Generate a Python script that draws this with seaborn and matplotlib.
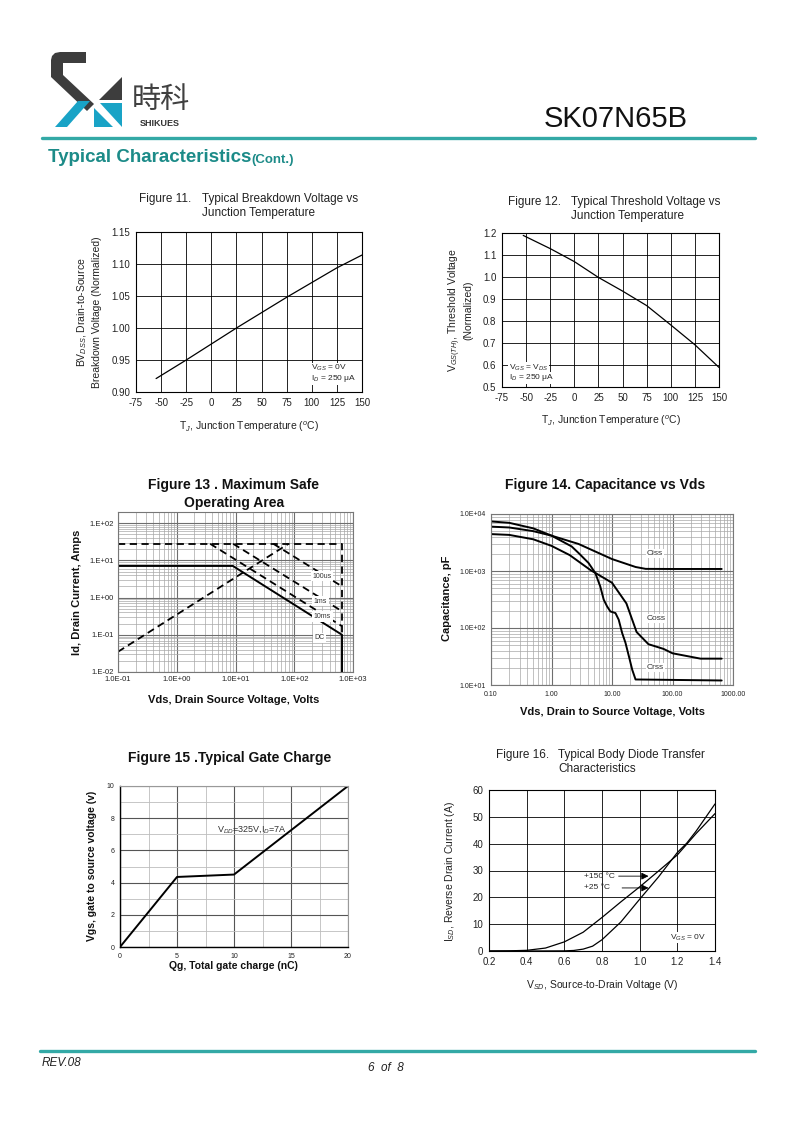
import numpy as np
import pandas as pd
import matplotlib
matplotlib.use('Agg')
import matplotlib.pyplot as plt
import seaborn as sns
from matplotlib.lines import Line2D
from matplotlib.patches import Polygon
from matplotlib.ticker import NullFormatter, LogLocator, FixedLocator

# ---------------- data ----------------
# Figure 11: breakdown voltage vs Tj
f11_temp = [-55, -25, 0, 25, 50, 75, 100, 125, 150]
f11_bv = [0.921, 0.950, 0.975, 1.000, 1.024, 1.048, 1.071, 1.094, 1.114]
f11_xticks = [-75, -50, -25, 0, 25, 50, 75, 100, 125, 150]
f11_yticks = [0.90, 0.95, 1.00, 1.05, 1.10, 1.15]

# Figure 12: threshold voltage vs Tj
f12_temp = [-53, -25, 0, 25, 50, 75, 100, 125, 150]
f12_vth = [1.189, 1.129, 1.070, 0.998, 0.936, 0.870, 0.782, 0.692, 0.589]
f12_xticks = [-75, -50, -25, 0, 25, 50, 75, 100, 125, 150]
f12_yticks = [0.5, 0.6, 0.7, 0.8, 0.9, 1.0, 1.1, 1.2]

# Figure 13: safe operating area
soa_lim_v = [0.1, 650, 650]
soa_lim_i = [28, 28, 0.11]
soa_rds_v = [0.1, 80]
soa_rds_i = [0.035, 28]
soa_100us_v = [44, 650]
soa_100us_i = [28, 2.0]
soa_1ms_v = [9.1, 650]
soa_1ms_i = [28, 0.43]
soa_10ms_v = [3.7, 650]
soa_10ms_i = [28, 0.17]
soa_dc_v = [0.1, 9, 650, 650]
soa_dc_i = [7.1, 7.1, 0.1, 0.01]
f13_labels = ['100us', '1ms', '10ms', 'DC']
f13_label_v = [205, 215, 215, 220]
f13_label_i = [3.8, 0.8, 0.31, 0.083]
f13_xticks = [0.1, 1, 10, 100, 1000]
f13_xticklabels = ['1.0E-01', '1.0E+00', '1.0E+01', '1.0E+02', '1.0E+03']
f13_yticks = [0.01, 0.1, 1, 10, 100]
f13_yticklabels = ['1.E-02', '1.E-01', '1.E+00', '1.E+01', '1.E+02']

# Figure 14: capacitance vs Vds
ciss_v = [0.1, 0.2, 0.5, 1.0, 2.8, 10, 24.6, 36, 100, 650]
ciss_c = [6000, 5800, 5000, 4170, 2980, 1620, 1175, 1090, 1085, 1085]
coss_v = [0.1, 0.2, 0.5, 1.0, 2.0, 4.4, 10, 17.3, 25.5, 40, 71, 100, 290, 650]
coss_c = [4440, 4300, 3600, 2760, 1900, 1040, 622, 270, 85, 52, 43, 36, 29, 29]
crss_v = [0.1, 0.2, 0.5, 1.0, 2.15, 2.8, 4.1, 5.3, 6.4, 7.3, 8.3, 9.4, 11.4, 12.9,
          14.7, 16.7, 19.0, 21.6, 24.5, 650]
crss_c = [7400, 7000, 5600, 4170, 2700, 2070, 1380, 920, 535, 314, 239, 195, 183, 140,
          82, 55, 32, 18.5, 12.5, 12]
f14_names = ['Ciss', 'Coss', 'Crss']
f14_label_v = [38, 38, 38]
f14_label_c = [2000, 146, 20]
f14_xticks = [0.1, 1, 10, 100, 1000]
f14_xticklabels = ['0.10', '1.00', '10.00', '100.00', '1000.00']
f14_yticks = [10, 100, 1000, 10000]
f14_yticklabels = ['1.0E+01', '1.0E+02', '1.0E+03', '1.0E+04']

# Figure 15: gate charge
f15_qg = [0, 5, 10, 20]
f15_vgs = [0, 4.35, 4.5, 10]

# Figure 16: body diode
f16_v = [0.2, 0.3, 0.4, 0.5, 0.6, 0.7, 0.8, 0.9, 1.0, 1.1, 1.2, 1.25, 1.3, 1.4]
f16_i150 = [0.0, 0.05, 0.25, 1.1, 3.4, 7.0, 12.5, 18.3, 23.9, 29.8, 35.8, 39.8, 43.8, 51.2]
f16_v25 = [0.2, 0.4, 0.6, 0.65, 0.7, 0.75, 0.8, 0.9, 1.0, 1.1, 1.2, 1.25, 1.3, 1.4]
f16_i25 = [0.0, 0.0, 0.05, 0.2, 0.7, 1.8, 4.2, 10.8, 19.3, 27.6, 36.7, 40.2, 44.7, 54.8]

# ---------------- setup ----------------
sns.set_theme(style='white')
plt.rcParams['font.family'] = ['Liberation Sans', 'Noto Sans CJK SC', 'DejaVu Sans']
plt.rcParams['mathtext.fontset'] = 'custom'
plt.rcParams['mathtext.rm'] = 'Liberation Sans'
plt.rcParams['mathtext.it'] = 'Liberation Sans:italic'
plt.rcParams['mathtext.bf'] = 'Liberation Sans:bold'
plt.rcParams['axes.unicode_minus'] = False

W, H = 800, 1132
fig = plt.figure(figsize=(8, 11.32), dpi=100)
fig.patch.set_facecolor('white')


def ax_at(l, t, r, b):
    return fig.add_axes([l / W, 1 - b / H, (r - l) / W, (b - t) / H])


def fx(x):
    return x / W


def fy(y):
    return 1 - y / H


def ftext(x, y, s, **kw):
    fig.text(fx(x), fy(y), s, **kw)


TEAL = '#33a9a6'
TEAL_TXT = '#1c8b88'
DARK = '#3d3d3d'
CYAN = '#19a3c6'
TXT = '#222222'

# ---------------- header ----------------
def poly(pts, color):
    p = Polygon([(fx(x), fy(y)) for x, y in pts], closed=True, transform=fig.transFigure,
                fc=color, ec='none')
    fig.add_artist(p)

poly([(86, 52), (60, 52), (55, 53), (52, 56), (51, 60), (51, 77), (87, 111), (94, 104),
      (63, 75), (63, 63), (86, 63)], DARK)
poly([(122, 77), (122, 100), (99, 100)], DARK)
poly([(55, 127), (67, 127), (90, 101), (78, 101)], CYAN)
poly([(100, 103), (122, 103), (122, 127)], CYAN)
poly([(94, 108), (94, 127), (113, 127)], CYAN)
ftext(161, 100, '時科', fontsize=21, color='#404040', ha='center', va='center',
      family=['Noto Sans CJK SC', 'DejaVu Sans'])
ftext(160, 124, 'SHIKUES', fontsize=6.5, color='#333333', ha='center', va='center',
      fontweight='bold')
ftext(688, 119, 'SK07N65B', fontsize=21, color='#111111', ha='right', va='center')
fig.add_artist(Line2D([fx(42), fx(755)], [fy(138), fy(138)], transform=fig.transFigure,
                      color=TEAL, lw=2.4))
ftext(48, 158, 'Typical Characteristics', fontsize=13.5, color=TEAL_TXT, fontweight='bold',
      ha='left', va='center')
ftext(251, 160, '(Cont.)', fontsize=9.5, color=TEAL_TXT, fontweight='bold', ha='left', va='center')

# ---------------- footer ----------------
fig.add_artist(Line2D([fx(40), fx(755)], [fy(1051), fy(1051)], transform=fig.transFigure,
                      color=TEAL, lw=2.4))
ftext(42, 1063, 'REV.08', fontsize=8.5, style='italic', ha='left', va='center', color=TXT)
ftext(386, 1068, '6  of  8', fontsize=8.5, style='italic', ha='center', va='center', color=TXT)

# ---------------- Figure 11 ----------------
ax = ax_at(136, 232, 362, 392)
sns.lineplot(x=f11_temp, y=f11_bv, ax=ax, color='black', lw=0.9, estimator=None, sort=False)
ax.set_xlim(-75, 150)
ax.set_ylim(0.90, 1.15)
ax.set_xticks(f11_xticks)
ax.set_yticks(f11_yticks)
ax.set_yticklabels([f'{v:.2f}' for v in f11_yticks])
ax.grid(True, color='black', lw=0.6)
for s in ax.spines.values():
    s.set_color('black'); s.set_linewidth(0.8)
ax.tick_params(length=0, labelsize=7, pad=4, colors=TXT)
ax.text(99, 0.937, 'V$_{GS}$ = 0V', fontsize=6, va='center', ha='left',
        bbox=dict(fc='white', ec='none', pad=0.5))
ax.text(99, 0.921, 'I$_{D}$ = 250 μA', fontsize=6, va='center', ha='left',
        bbox=dict(fc='white', ec='none', pad=0.5))
ftext(139, 199, 'Figure 11.', fontsize=8.5, ha='left', va='center', color=TXT)
ftext(202, 199, 'Typical Breakdown Voltage vs', fontsize=8.5, ha='left', va='center', color=TXT)
ftext(202, 213, 'Junction Temperature', fontsize=8.5, ha='left', va='center', color=TXT)
ftext(82, 312, 'BV$_{DSS}$, Drain-to-Source', fontsize=7.5, rotation=90, ha='center', va='center', color=TXT)
ftext(97, 312, 'Breakdown Voltage (Normalized)', fontsize=7.5, rotation=90, ha='center', va='center', color=TXT)
ftext(249, 427, 'T$_{J}$, Junction Temperature ($^{o}$C)', fontsize=7.5, ha='center', va='center', color=TXT)

# ---------------- Figure 12 ----------------
ax = ax_at(502, 233, 719, 387)
sns.lineplot(x=f12_temp, y=f12_vth, ax=ax, color='black', lw=0.9, estimator=None, sort=False)
ax.set_xlim(-75, 150)
ax.set_ylim(0.5, 1.2)
ax.set_xticks(f12_xticks)
ax.set_yticks(f12_yticks)
ax.set_yticklabels([f'{v:.1f}' for v in f12_yticks])
ax.grid(True, color='black', lw=0.6)
for s in ax.spines.values():
    s.set_color('black'); s.set_linewidth(0.8)
ax.tick_params(length=0, labelsize=7, pad=4, colors=TXT)
ax.text(-68, 0.588, 'V$_{GS}$ = V$_{DS}$', fontsize=6, va='center', ha='left',
        bbox=dict(fc='white', ec='none', pad=0.5))
ax.text(-68, 0.542, 'I$_{D}$ = 250 μA', fontsize=6, va='center', ha='left',
        bbox=dict(fc='white', ec='none', pad=0.5))
ftext(508, 202, 'Figure 12.', fontsize=8.5, ha='left', va='center', color=TXT)
ftext(571, 202, 'Typical Threshold Voltage vs', fontsize=8.5, ha='left', va='center', color=TXT)
ftext(571, 216, 'Junction Temperature', fontsize=8.5, ha='left', va='center', color=TXT)
ftext(455, 310, 'V$_{GS(TH)}$, Threshold Voltage', fontsize=7.5, rotation=90, ha='center', va='center', color=TXT)
ftext(468, 310, '(Normalized)', fontsize=7.5, rotation=90, ha='center', va='center', color=TXT)
ftext(611, 421, 'T$_{J}$, Junction Temperature ($^{o}$C)', fontsize=7.5, ha='center', va='center', color=TXT)

# ---------------- Figure 13 ----------------
ax = ax_at(118, 512, 353, 672)
ax.set_xscale('log'); ax.set_yscale('log')
ax.set_xlim(0.1, 1000)
ax.set_ylim(0.01, 200)
for xs, ys in [(soa_lim_v, soa_lim_i), (soa_rds_v, soa_rds_i), (soa_100us_v, soa_100us_i),
               (soa_1ms_v, soa_1ms_i), (soa_10ms_v, soa_10ms_i)]:
    sns.lineplot(x=xs, y=ys, ax=ax, color='black', lw=1.3, linestyle=(0, (4, 2.5)),
                 estimator=None, sort=False)
sns.lineplot(x=soa_dc_v, y=soa_dc_i, ax=ax, color='black', lw=1.4, estimator=None, sort=False)
for lab, v, i in zip(f13_labels, f13_label_v, f13_label_i):
    ax.text(v, i, lab, fontsize=5, ha='left', va='center', color='#333',
            bbox=dict(fc='white', ec='none', pad=1.2), zorder=5)
ax.xaxis.set_major_locator(FixedLocator(f13_xticks))
ax.set_xticklabels(f13_xticklabels)
ax.yaxis.set_major_locator(FixedLocator(f13_yticks))
ax.set_yticklabels(f13_yticklabels)
ax.xaxis.set_minor_locator(LogLocator(base=10, subs=np.arange(2, 10)))
ax.yaxis.set_minor_locator(LogLocator(base=10, subs=np.arange(2, 10)))
ax.xaxis.set_minor_formatter(NullFormatter())
ax.yaxis.set_minor_formatter(NullFormatter())
ax.grid(True, which='major', color='#6e6e6e', lw=0.8)
ax.grid(True, which='minor', color='#a8a8a8', lw=0.5)
for s in ax.spines.values():
    s.set_color('#777'); s.set_linewidth(0.8)
ax.tick_params(which='both', length=0, labelsize=5.5, pad=3, colors=TXT)
ftext(234, 485, 'Figure 13 . Maximum Safe', fontsize=10, fontweight='bold', ha='center', va='center', color='#111')
ftext(234, 503, 'Operating Area', fontsize=10, fontweight='bold', ha='center', va='center', color='#111')
ftext(77, 592, 'Id, Drain Current, Amps', fontsize=8, fontweight='bold', rotation=90, ha='center', va='center', color='#111')
ftext(234, 700, 'Vds, Drain Source Voltage, Volts', fontsize=8, fontweight='bold', ha='center', va='center', color='#111')

# ---------------- Figure 14 ----------------
ax = ax_at(491, 514, 733, 685)
ax.set_xscale('log'); ax.set_yscale('log')
ax.set_xlim(0.1, 1000)
ax.set_ylim(10, 10000)
for xs, ys in [(ciss_v, ciss_c), (coss_v, coss_c), (crss_v, crss_c)]:
    sns.lineplot(x=xs, y=ys, ax=ax, color='black', lw=1.4, estimator=None, sort=False)
for lab, v, c in zip(f14_names, f14_label_v, f14_label_c):
    ax.text(v, c, lab, fontsize=6, ha='left', va='center', color='#333',
            bbox=dict(fc='white', ec='none', pad=0.8), zorder=5)
ax.xaxis.set_major_locator(FixedLocator(f14_xticks))
ax.set_xticklabels(f14_xticklabels)
ax.yaxis.set_major_locator(FixedLocator(f14_yticks))
ax.set_yticklabels(f14_yticklabels)
ax.xaxis.set_minor_locator(LogLocator(base=10, subs=np.arange(2, 10)))
ax.yaxis.set_minor_locator(LogLocator(base=10, subs=np.arange(2, 10)))
ax.xaxis.set_minor_formatter(NullFormatter())
ax.yaxis.set_minor_formatter(NullFormatter())
ax.grid(True, which='major', color='#6e6e6e', lw=0.8)
ax.grid(True, which='minor', color='#a8a8a8', lw=0.5)
for s in ax.spines.values():
    s.set_color('#777'); s.set_linewidth(0.8)
ax.tick_params(which='both', length=0, labelsize=5, pad=4, colors=TXT)
ftext(605, 485, 'Figure 14. Capacitance vs Vds', fontsize=10, fontweight='bold', ha='center', va='center', color='#111')
ftext(447, 598, 'Capacitance, pF', fontsize=8, fontweight='bold', rotation=90, ha='center', va='center', color='#111')
ftext(613, 712, 'Vds, Drain to Source Voltage, Volts', fontsize=8, fontweight='bold', ha='center', va='center', color='#111')

# ---------------- Figure 15 ----------------
ax = ax_at(120, 786, 348, 947)
sns.lineplot(x=f15_qg, y=f15_vgs, ax=ax, color='black', lw=1.4, estimator=None, sort=False)
ax.set_xlim(0, 20)
ax.set_ylim(0, 10)
ax.set_xticks([0, 5, 10, 15, 20])
ax.set_yticks([0, 2, 4, 6, 8, 10])
ax.set_xticks([2.5, 7.5, 12.5, 17.5], minor=True)
ax.set_yticks([1, 3, 5, 7, 9], minor=True)
ax.grid(True, which='major', color='#555', lw=0.8)
ax.grid(True, which='minor', color='#bdbdbd', lw=0.6)
for k in ['left', 'bottom']:
    ax.spines[k].set_color('black'); ax.spines[k].set_linewidth(1.0)
for k in ['top', 'right']:
    ax.spines[k].set_color('#999'); ax.spines[k].set_linewidth(0.8)
ax.tick_params(which='both', length=0, labelsize=5, pad=4, colors=TXT)
ax.text(8.5, 7.3, 'V$_{DD}$=325V,I$_{D}$=7A', fontsize=6.5, ha='left', va='center', color='#333')
ftext(230, 758, 'Figure 15 .Typical Gate Charge', fontsize=10, fontweight='bold', ha='center', va='center', color='#111')
ftext(92, 866, 'Vgs, gate to source voltage (v)', fontsize=7.5, fontweight='bold', rotation=90, ha='center', va='center', color='#111')
ftext(233, 966, 'Qg, Total gate charge (nC)', fontsize=7.5, fontweight='bold', ha='center', va='center', color='#111')

# ---------------- Figure 16 ----------------
ax = ax_at(489, 790, 715, 951)
sns.lineplot(x=f16_v, y=f16_i150, ax=ax, color='black', lw=0.9, estimator=None, sort=False)
sns.lineplot(x=f16_v25, y=f16_i25, ax=ax, color='black', lw=0.9, estimator=None, sort=False)
ax.set_xlim(0.2, 1.4)
ax.set_ylim(0, 60)
ax.set_xticks([0.2, 0.4, 0.6, 0.8, 1.0, 1.2, 1.4])
ax.set_xticklabels(['0.2', '0.4', '0.6', '0.8', '1.0', '1.2', '1.4'])
ax.set_yticks([0, 10, 20, 30, 40, 50, 60])
ax.grid(True, color='black', lw=0.6)
for s in ax.spines.values():
    s.set_color('black'); s.set_linewidth(0.8)
ax.tick_params(length=0, labelsize=7, pad=4, colors=TXT)
ax.annotate('+150 °C', xy=(1.047, 27.9), xytext=(0.707, 27.9), fontsize=6, va='center', ha='left',
            arrowprops=dict(arrowstyle='-|>,head_length=0.7,head_width=0.35', color='black', lw=0.6,
                            shrinkA=0, shrinkB=0, relpos=(1, 0.5)))
ax.annotate('+25 °C', xy=(1.047, 23.5), xytext=(0.707, 23.5), fontsize=6, va='center', ha='left',
            arrowprops=dict(arrowstyle='-|>,head_length=0.7,head_width=0.35', color='black', lw=0.6,
                            shrinkA=6, shrinkB=0, relpos=(1, 0.5)))
ax.text(1.16, 5, 'V$_{GS}$ = 0V', fontsize=6, ha='left', va='center',
        bbox=dict(fc='white', ec='none', pad=0.5))
ftext(496, 755, 'Figure 16.', fontsize=8.5, ha='left', va='center', color=TXT)
ftext(558, 755, 'Typical Body Diode Transfer', fontsize=8.5, ha='left', va='center', color=TXT)
ftext(558, 769, 'Characteristics', fontsize=8.5, ha='left', va='center', color=TXT)
ftext(450, 871, 'I$_{SD}$, Reverse Drain Current (A)', fontsize=7.5, rotation=90, ha='center', va='center', color=TXT)
ftext(602, 985, 'V$_{SD}$, Source-to-Drain Voltage (V)', fontsize=7.5, ha='center', va='center', color=TXT)

fig.savefig('out.png', dpi=100, facecolor='white')
